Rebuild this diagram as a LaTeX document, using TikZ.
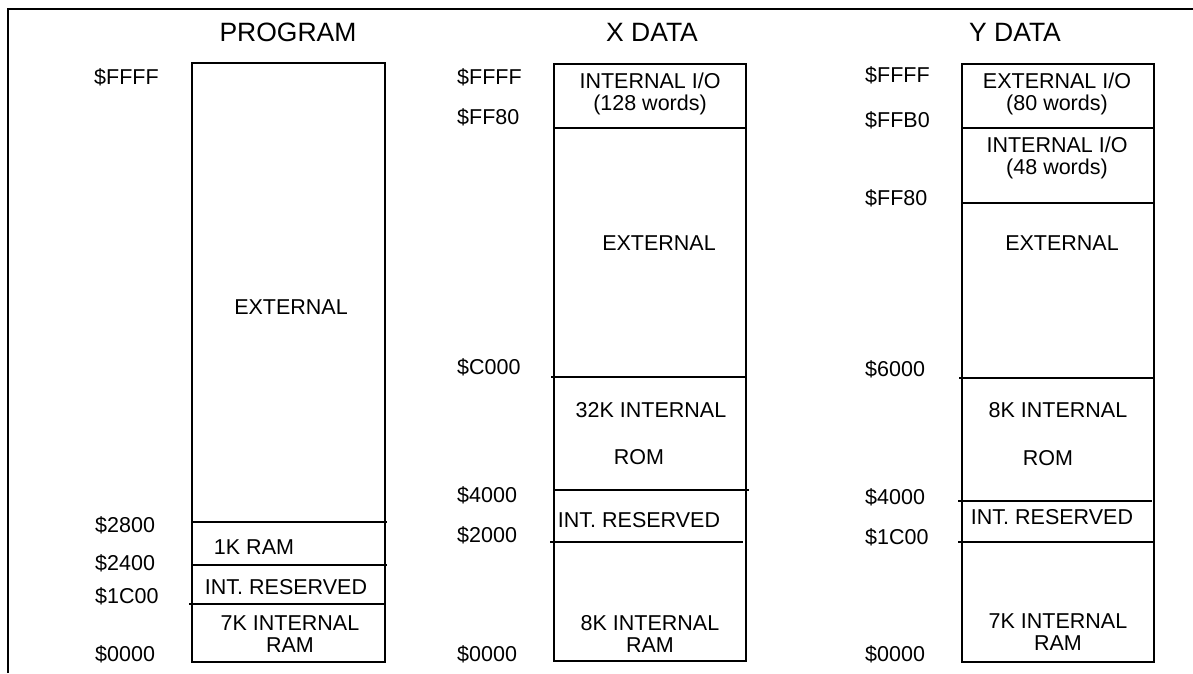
\documentclass[tikz,border=0pt]{standalone}
\usepackage{fontspec}
\setmainfont{Liberation Sans}
\begin{document}
\begin{tikzpicture}[x=1pt,y=-1pt,
  box/.style={line width=2pt},
  lbl/.style={anchor=west,inner sep=0pt,font=\fontsize{21.5}{21.5}\selectfont},
  txt/.style={inner sep=0pt,align=center,font=\fontsize{21.5}{21.5}\selectfont},
  ttl/.style={inner sep=0pt,font=\fontsize{26.5}{28}\selectfont}]
\useasboundingbox (0,0) rectangle (1193,673);
\draw[box] (8,673) -- (8,9) -- (1193,9);
% titles
\node[ttl] (tp) at (288,32) {PROGRAM};
\node[ttl] (tx) at (652,32) {X DATA};
\node[ttl] (ty) at (1015,32) {Y DATA};
% program
\draw[box] (192,63) rectangle (385,662);
\draw[box] (192,522) -- (387,522);
\draw[box] (192,565) -- (387,565);
\draw[box] (189,604) -- (385,604);
\node[txt] (pext) at (291,307) {EXTERNAL};
\node[txt] (p1k) at (254,547) {1K RAM};
\node[txt] (pres) at (286,587) {INT. RESERVED};
\node[txt] (pram) at (290,634) {7K INTERNAL\\RAM};
\node[lbl] (pa1) at (94,77) {\$FFFF};
\node[lbl] (pa2) at (95,525) {\$2800};
\node[lbl] (pa3) at (95,563) {\$2400};
\node[lbl] (pa4) at (95,596) {\$1C00};
\node[lbl] (pa5) at (95,654) {\$0000};
% x data
\draw[box] (554,64) rectangle (746,661);
\draw[box] (554,128) -- (746,128);
\draw[box] (551,377) -- (746,377);
\draw[box] (554,490) -- (749,490);
\draw[box] (550,542) -- (743,542);
\node[txt] (xio) at (650,94) {INTERNAL I/O\\(128 words)};
\node[txt] (xext) at (659,243) {EXTERNAL};
\node[txt] (xrom1) at (651,410) {32K INTERNAL};
\node[txt] (xrom2) at (639,457) {ROM};
\node[txt] (xres) at (639,520) {INT. RESERVED};
\node[txt] (xram) at (650,634) {8K INTERNAL\\RAM};
\node[lbl] (xa1) at (457,77) {\$FFFF};
\node[lbl] (xa2) at (457,117) {\$FF80};
\node[lbl] (xa3) at (457,367) {\$C000};
\node[lbl] (xa4) at (457,495) {\$4000};
\node[lbl] (xa5) at (457,535) {\$2000};
\node[lbl] (xa6) at (457,654) {\$0000};
% y data
\draw[box] (962,64) rectangle (1154,662);
\draw[box] (962,128) -- (1154,128);
\draw[box] (962,203) -- (1154,203);
\draw[box] (959,378) -- (1154,378);
\draw[box] (958,501) -- (1152,501);
\draw[box] (958,542) -- (1154,542);
\node[txt] (yeio) at (1057,94) {EXTERNAL I/O\\(80 words)};
\node[txt] (yiio) at (1057,158) {INTERNAL I/O\\(48 words)};
\node[txt] (yext) at (1062,243) {EXTERNAL};
\node[txt] (yrom1) at (1058,410) {8K INTERNAL};
\node[txt] (yrom2) at (1048,458) {ROM};
\node[txt] (yres) at (1052,517) {INT. RESERVED};
\node[txt] (yram) at (1058,632) {7K INTERNAL\\RAM};
\node[lbl] (ya1) at (865,75) {\$FFFF};
\node[lbl] (ya2) at (865,120) {\$FFB0};
\node[lbl] (ya3) at (865,198) {\$FF80};
\node[lbl] (ya4) at (865,369) {\$6000};
\node[lbl] (ya5) at (865,497) {\$4000};
\node[lbl] (ya6) at (865,537) {\$1C00};
\node[lbl] (ya7) at (865,654) {\$0000};
\end{tikzpicture}
\end{document}
